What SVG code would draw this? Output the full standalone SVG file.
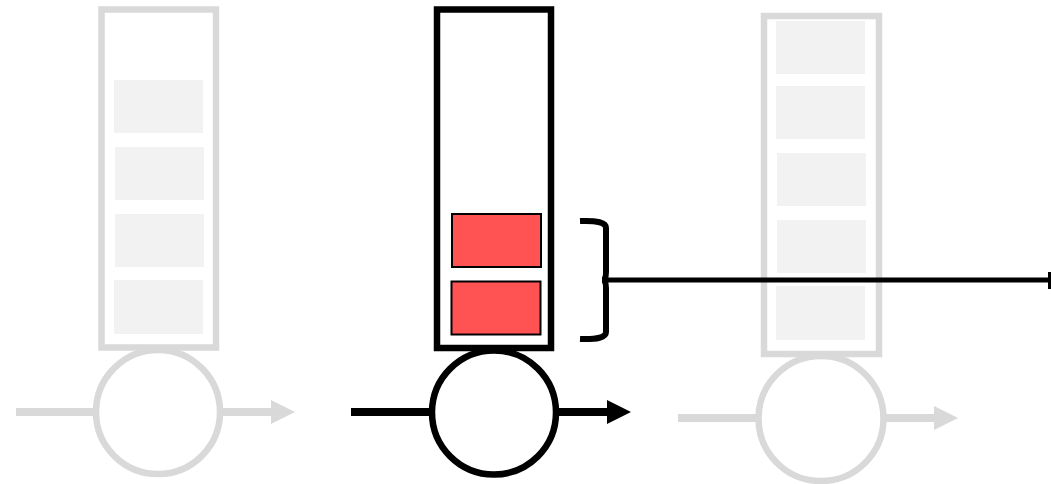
<svg xmlns="http://www.w3.org/2000/svg" width="1051" height="484" viewBox="0 0 1051 484">
<style>
.g-frame{fill:#ffffff;stroke:#d9d9d9;stroke-width:6.5}
.g-slot{fill:#f2f2f2;stroke:none}
.g-line{stroke:#d9d9d9;stroke-width:8;fill:none}
.g-head{fill:#d9d9d9}
.b-frame{fill:#ffffff;stroke:#000000;stroke-width:6.5}
.r-slot{fill:#ff5252;stroke:#000000;stroke-width:2}
.b-line{stroke:#000000;stroke-width:8;fill:none}
.b-head{fill:#000000}
</style>
<rect width="1051" height="484" fill="#ffffff"/>
<g id="left-node">
  <line class="g-line" x1="16" y1="412" x2="96" y2="412"/>
  <line class="g-line" x1="220" y1="412" x2="274" y2="412"/>
  <polygon class="g-head" points="271,400 295,412 271,424"/>
  <rect class="g-frame" x="101.5" y="9.5" width="114.5" height="338"/>
  <rect class="g-slot" x="114" y="80" width="89" height="53"/>
  <rect class="g-slot" x="115" y="147" width="89" height="53"/>
  <rect class="g-slot" x="115" y="214" width="89" height="53"/>
  <rect class="g-slot" x="114" y="280" width="89" height="54"/>
  <circle class="g-frame" cx="158" cy="412" r="62"/>
</g>
<g id="middle-node">
  <line class="b-line" x1="351" y1="412" x2="432" y2="412"/>
  <line class="b-line" x1="556" y1="412" x2="610" y2="412"/>
  <polygon class="b-head" points="607,400 631,412 607,424"/>
  <rect class="b-frame" x="437" y="9.5" width="114" height="338.5"/>
  <rect class="r-slot" x="452" y="214" width="89" height="53"/>
  <rect class="r-slot" x="451.5" y="281.5" width="89" height="53"/>
  <circle class="b-frame" cx="494" cy="412.5" r="62"/>
</g>
<g id="right-node">
  <line class="g-line" x1="678" y1="418" x2="758" y2="418"/>
  <line class="g-line" x1="884" y1="418" x2="937" y2="418"/>
  <polygon class="g-head" points="934,406 958,418 934,430"/>
  <rect class="g-frame" x="764" y="16" width="115" height="338"/>
  <rect class="g-slot" x="776" y="21" width="89" height="53"/>
  <rect class="g-slot" x="776" y="86" width="89" height="53"/>
  <rect class="g-slot" x="777" y="153" width="89" height="53"/>
  <rect class="g-slot" x="777" y="220" width="89" height="53"/>
  <rect class="g-slot" x="776" y="286" width="89" height="54"/>
  <circle class="g-frame" cx="821" cy="418.5" r="62.5"/>
</g>
<g id="connectors">
  <path d="M580,221 Q606,220 606,228 L606,272 Q606,280 602,280 Q606,280 606,288 L606,332 Q606,340 580,339" fill="none" stroke="#000000" stroke-width="6"/>
  <line x1="604" y1="280" x2="1049" y2="280" stroke="#000000" stroke-width="5"/>
  <line x1="1049.5" y1="272" x2="1049.5" y2="289" stroke="#000000" stroke-width="3"/>
</g>
</svg>
